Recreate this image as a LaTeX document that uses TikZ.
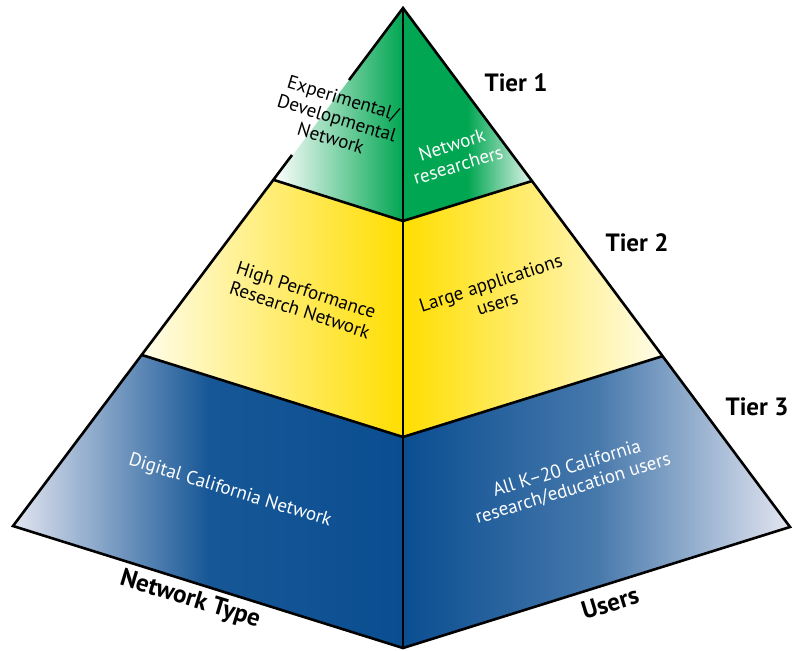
\documentclass[tikz,border=0pt]{standalone}
\usepackage{fontspec}
\setmainfont{PT Sans}
\definecolor{tgreen}{RGB}{0,166,81}
\definecolor{tyellow}{RGB}{255,222,0}
\definecolor{tblue}{RGB}{10,78,145}
\definecolor{tpale}{RGB}{226,229,240}
\begin{document}
\begin{tikzpicture}[x=1pt,y=-1pt,
  edge/.style={line width=2.6pt, line join=miter},
  body/.style={font=\fontsize{19}{21}\selectfont, align=center, inner sep=0pt},
  head/.style={font=\fontsize{25}{28}\selectfont\bfseries, inner sep=0pt}]
\useasboundingbox (0,0) rectangle (793,651);
\coordinate (A) at (403,8);
\coordinate (L1) at (274,180);
\coordinate (C1) at (403,221);
\coordinate (R1) at (532,181);
\coordinate (L2) at (142,355);
\coordinate (C2) at (403,437);
\coordinate (R2) at (663,356);
\coordinate (L3) at (13,526);
\coordinate (C3) at (403,648);
\coordinate (R3) at (790,527);
\coordinate (G1) at (349,80);
\coordinate (G2) at (292,155);
% faces
\path[left color=white, right color=tgreen] (A) -- (L1) -- (C1) -- cycle;
\path[left color=tgreen, right color=tgreen!12, middle color=tgreen] (A) -- (C1) -- (R1) -- cycle;
\path[left color=tyellow!8, right color=tyellow] (L1) -- (L2) -- (C2) -- (C1) -- cycle;
\path[left color=tyellow, right color=tyellow!8] (C1) -- (C2) -- (R2) -- (R1) -- cycle;
\path[left color=tpale, right color=tblue, middle color=tblue!94!tpale] (L2) -- (L3) -- (C3) -- (C2) -- cycle;
\path[left color=tblue, right color=tpale, middle color=tblue!72!tpale] (C2) -- (C3) -- (R3) -- (R2) -- cycle;
% outlines
\draw[edge] (G1) -- (A) -- (R3) -- (C3) -- (L3) -- (G2);
\draw[edge] (A) -- (C3);
\draw[edge] (L1) -- (C1) -- (R1);
\draw[edge] (L2) -- (C2) -- (R2);
% texts
\node[body, rotate=-17] (t1l) at (337,118) {Experimental/\\Developmental\\Network};
\node[body, text=white, rotate=17] (t1r) at (455,155) {Network\\researchers};
\node[head] (tier1) at (516,83) {Tier 1};
\node[head] (tier2) at (637,243) {Tier 2};
\node[head] (tier3) at (757,407) {Tier 3};
\node[body, rotate=-18] (t2l) at (303,300) {High Performance\\Research Network};
\node[body, rotate=18] (t2r) at (494,293) {Large applications\\users};
\node[body, text=white, rotate=-17] (t3l) at (230,491) {Digital California Network};
\node[body, text=white, rotate=17] (t3r) at (570,479) {All K–20 California\\research/education users};
\node[head, rotate=-17] (nt) at (190,600) {Network Type};
\node[head, rotate=17] (us) at (610,603) {Users};
\end{tikzpicture}
\end{document}
